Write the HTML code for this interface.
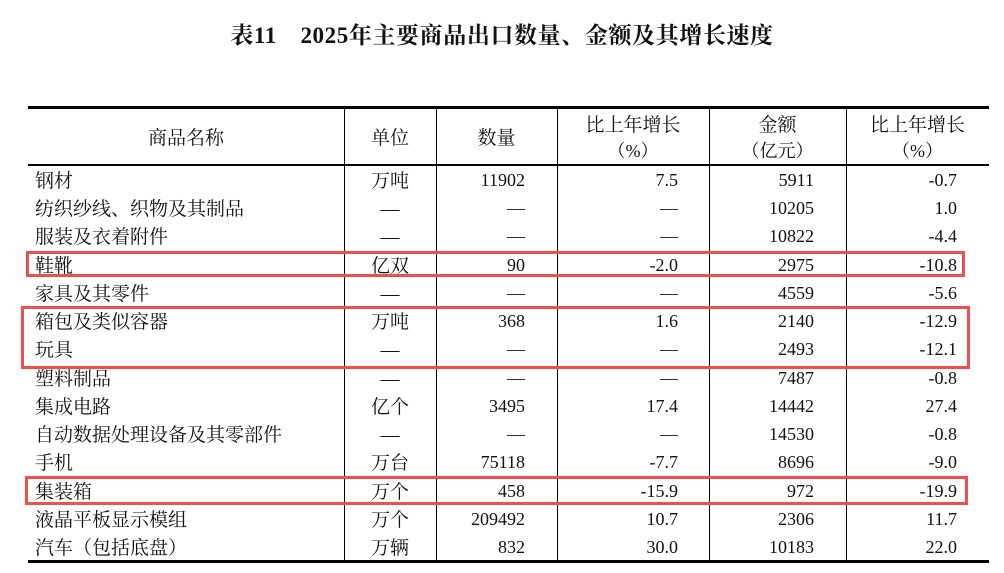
<!DOCTYPE html>
<html><head><meta charset="utf-8"><style>
body{margin:0;width:1004px;height:573px;background:#fff;position:relative;overflow:hidden;font-family:"Liberation Serif","Noto Serif CJK SC",serif;color:#111}
.a{position:absolute;white-space:nowrap;line-height:28px;font-size:18px}
.l{position:absolute;background:#000}
.r{position:absolute;border:3px solid #ef4f4f;box-sizing:border-box}
</style></head><body>
<div class="a" style="left:0;width:1004px;top:22px;text-align:center;font-size:23px;font-weight:bold;letter-spacing:0.6px">表11　2025年主要商品出口数量、金额及其增长速度</div>
<div class="l" style="left:28px;top:106px;width:961px;height:3px"></div>
<div class="l" style="left:28px;top:164px;width:961px;height:1.5px"></div>
<div class="l" style="left:28px;top:560px;width:961px;height:3px"></div>
<div class="l" style="left:344px;top:108px;width:1.3px;height:453px"></div>
<div class="l" style="left:436px;top:108px;width:1.3px;height:453px"></div>
<div class="l" style="left:557px;top:108px;width:1.3px;height:453px"></div>
<div class="l" style="left:709px;top:108px;width:1.3px;height:453px"></div>
<div class="l" style="left:846px;top:108px;width:1.3px;height:453px"></div>
<div class="a" style="left:28px;width:316px;top:125px;text-align:center;font-size:19px">商品名称</div>
<div class="a" style="left:344px;width:92px;top:125px;text-align:center;font-size:19px">单位</div>
<div class="a" style="left:436px;width:121px;top:125px;text-align:center;font-size:19px">数量</div>
<div class="a" style="left:557px;width:152px;top:112px;text-align:center;font-size:19px">比上年增长</div>
<div class="a" style="left:557px;width:152px;top:137px;text-align:center;font-size:18px">（%）</div>
<div class="a" style="left:709px;width:137px;top:112px;text-align:center;font-size:19px">金额</div>
<div class="a" style="left:709px;width:137px;top:137px;text-align:center;font-size:18px">（亿元）</div>
<div class="a" style="left:846px;width:143px;top:112px;text-align:center;font-size:19px">比上年增长</div>
<div class="a" style="left:846px;width:143px;top:137px;text-align:center;font-size:18px">（%）</div>

<div class="a" style="left:35px;top:168px;font-size:19px;line-height:28.23px">钢材<br>纺织纱线、织物及其制品<br>服装及衣着附件<br>鞋靴<br>家具及其零件<br>箱包及类似容器<br>玩具<br>塑料制品<br>集成电路<br>自动数据处理设备及其零部件<br>手机<br>集装箱<br>液晶平板显示模组<br>汽车（包括底盘）</div>
<div class="a" style="left:344px;width:92px;top:168px;text-align:center;font-size:19px;line-height:28.23px">万吨<br>—<br>—<br>亿双<br>—<br>万吨<br>—<br>—<br>亿个<br>—<br>万台<br>万个<br>万个<br>万辆</div>
<div class="a" style="left:436px;width:89px;top:166px;text-align:right;line-height:28.23px">11902<br>—<br>—<br>90<br>—<br>368<br>—<br>—<br>3495<br>—<br>75118<br>458<br>209492<br>832</div>
<div class="a" style="left:557px;width:121px;top:166px;text-align:right;line-height:28.23px">7.5<br>—<br>—<br>-2.0<br>—<br>1.6<br>—<br>—<br>17.4<br>—<br>-7.7<br>-15.9<br>10.7<br>30.0</div>
<div class="a" style="left:709px;width:105px;top:166px;text-align:right;line-height:28.23px">5911<br>10205<br>10822<br>2975<br>4559<br>2140<br>2493<br>7487<br>14442<br>14530<br>8696<br>972<br>2306<br>10183</div>
<div class="a" style="left:846px;width:111px;top:166px;text-align:right;line-height:28.23px">-0.7<br>1.0<br>-4.4<br>-10.8<br>-5.6<br>-12.9<br>-12.1<br>-0.8<br>27.4<br>-0.8<br>-9.0<br>-19.9<br>11.7<br>22.0</div>

<div class="r" style="left:26px;top:251px;width:939px;height:26px"></div>
<div class="r" style="left:21px;top:306px;width:949px;height:63px"></div>
<div class="r" style="left:25px;top:476px;width:943px;height:29px"></div>
</body></html>
